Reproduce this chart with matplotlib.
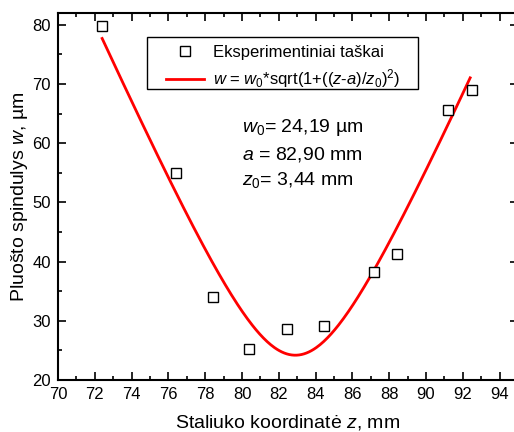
import numpy as np
import matplotlib
matplotlib.use("Agg")
import matplotlib.pyplot as plt
from matplotlib.patches import Rectangle
from matplotlib.ticker import MultipleLocator

plt.rcParams['font.family'] = ['Liberation Sans', 'DejaVu Sans']
plt.rcParams['mathtext.fontset'] = 'custom'
plt.rcParams['mathtext.rm'] = 'Liberation Sans'
plt.rcParams['mathtext.it'] = 'Liberation Sans:italic'

# matavimu taskai
z_mm = [72.4, 76.4, 78.4, 80.4, 82.45, 84.45, 87.2, 88.45, 91.2, 92.5]
w_um = [79.8, 55.0, 34.0, 25.3, 28.6, 29.2, 38.2, 41.3, 65.55, 69.0]

# aproksimacijos parametrai
w0 = 24.19
a = 82.90
z0 = 3.44

zz = np.linspace(72.4, 92.4, 300)
ww = w0 * np.sqrt(1 + ((zz - a) / z0) ** 2)

W, H = 514, 432
fig = plt.figure(figsize=(W / 100, H / 100), dpi=100)
ax = fig.add_axes([58 / W, 1 - 380 / H, 460 / W, 367 / H])

ax.plot(z_mm, w_um, 's', mfc='white', mec='black', mew=1.0, ms=7.5,
        label='Eksperimentiniai taškai', zorder=3)
ax.plot(zz, ww, color='red', lw=2, label=r'$w$ = $w_0$*sqrt(1+(($z$-$a$)/$z_0$)$^2$)')

ax.set_xlim(70, 95)
ax.set_ylim(20, 82)
ax.xaxis.set_major_locator(MultipleLocator(2))
ax.xaxis.set_minor_locator(MultipleLocator(1))
ax.yaxis.set_major_locator(MultipleLocator(10))
ax.yaxis.set_minor_locator(MultipleLocator(5))
ax.tick_params(which='both', direction='in', top=True, right=True, labelsize=12, width=1.2, pad=5)
ax.tick_params(which='major', length=6)
ax.tick_params(which='minor', length=3)
for s in ax.spines.values():
    s.set_linewidth(1.5)

ax.set_xlabel('Staliuko koordinatė $z$, mm', fontsize=14, labelpad=8)
ax.set_ylabel('Pluošto spindulys $w$, µm', fontsize=14, labelpad=2)

# legenda be remelio, remelis piesiamas atskirai
leg = ax.legend(loc='upper left', bbox_to_anchor=(166 / W, 1 - 45 / H),
                bbox_transform=fig.transFigure, fontsize=12, frameon=False,
                handlelength=2.3, markerscale=1.0, borderpad=0, borderaxespad=0,
                labelspacing=0.45, handletextpad=0.5)
fig.patches.append(Rectangle((147 / W, 1 - 89 / H), 271 / W, 52 / H,
                             transform=fig.transFigure, fill=False,
                             edgecolor='black', linewidth=1.0, zorder=5))

ax.text(242 / W, 1 - 132 / H, r'$w_0$= 24,19 µm', transform=fig.transFigure,
        fontsize=14, va='baseline')
ax.text(242 / W, 1 - 160 / H, r'$a$ = 82,90 mm', transform=fig.transFigure,
        fontsize=14, va='baseline')
ax.text(242 / W, 1 - 185 / H, r'$z_0$= 3,44 mm', transform=fig.transFigure,
        fontsize=14, va='baseline')

fig.savefig('out.png', dpi=100)
